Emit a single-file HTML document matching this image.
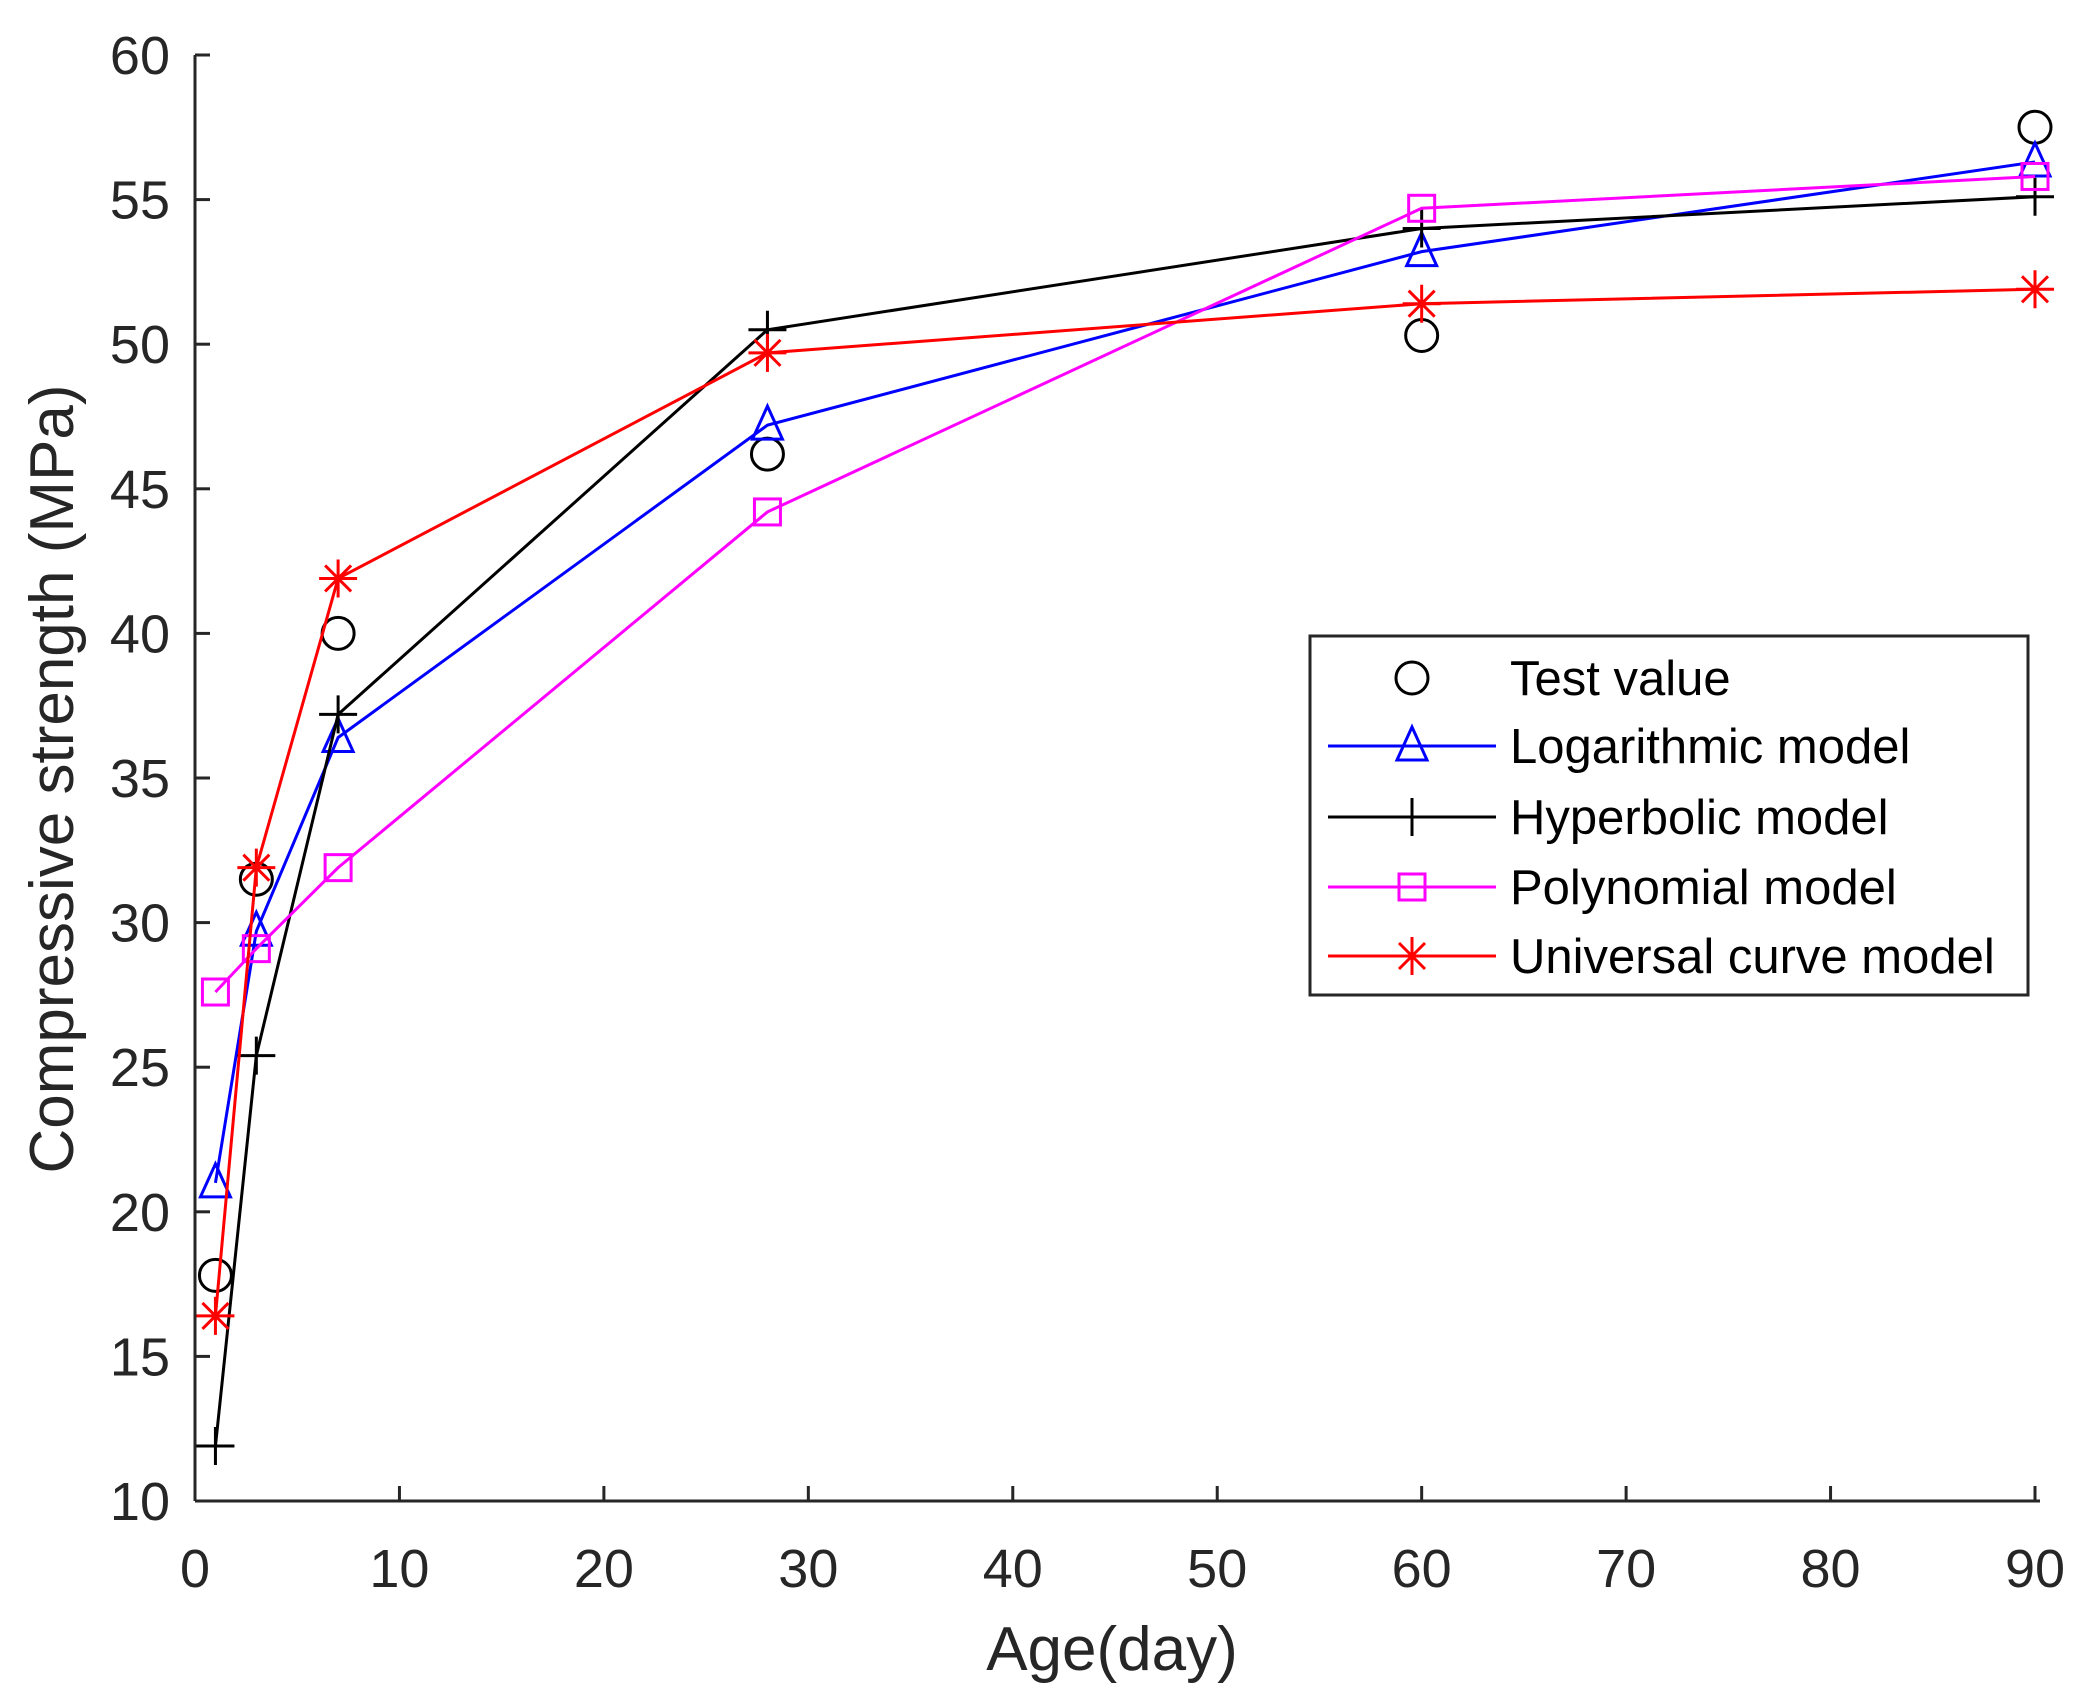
<!DOCTYPE html>
<html><head><meta charset="utf-8"><style>body{margin:0;background:#fff}svg{display:block}</style></head><body>
<svg width="2091" height="1706" xmlns="http://www.w3.org/2000/svg" font-family="Liberation Sans, sans-serif">
<rect width="2091" height="1706" fill="#fff"/>
<g stroke="#262626" stroke-width="3" fill="none">
<line x1="195" y1="55" x2="195" y2="1501"/>
<line x1="195" y1="1501" x2="2040" y2="1501"/>
</g>
<g id="ticks" stroke="#262626" stroke-width="3"></g>
<g id="lab" fill="#262626" font-size="54"></g>
<text x="1112" y="1670" font-size="62" fill="#262626" text-anchor="middle">Age(day)</text>
<text transform="translate(73,779) rotate(-90)" font-size="62" fill="#262626" text-anchor="middle">Compressive strength (MPa)</text>
<g id="series"></g>
<rect x="1310" y="636" width="718" height="359" fill="#fff" stroke="#262626" stroke-width="3"/>
<g id="leg"></g>
<script>
const X=d=>195+d*1840/90, Y=v=>1501-(v-10)*28.92;
const ns="http://www.w3.org/2000/svg";
function el(p,t,a,txt){const e=document.createElementNS(ns,t);for(const k in a)e.setAttribute(k,a[k]);if(txt!==undefined)e.textContent=txt;p.appendChild(e);return e;}
const tk=document.getElementById('ticks'),lb=document.getElementById('lab');
for(let v=10;v<=60;v+=5){el(tk,'line',{x1:195,x2:210,y1:Y(v),y2:Y(v)});el(lb,'text',{x:170,y:Y(v)+19,'text-anchor':'end'},v);}
for(let d=0;d<=90;d+=10){if(d>0)el(tk,'line',{x1:X(d),x2:X(d),y1:1501,y2:1486});el(lb,'text',{x:X(d),y:1587,'text-anchor':'middle'},d);}
const days=[1,3,7,28,60,90];
const S=[
{c:'#000',m:'o',line:false,v:[17.8,31.5,40,46.2,50.3,57.5]},
{c:'#0000ff',m:'t',line:true,v:[21,29.7,36.4,47.2,53.2,56.3]},
{c:'#000',m:'+',line:true,v:[11.9,25.4,37.2,50.5,54,55.1]},
{c:'#ff00ff',m:'s',line:true,v:[27.6,29.1,31.9,44.2,54.7,55.8]},
{c:'#ff0000',m:'*',line:true,v:[16.4,31.9,41.9,49.7,51.4,51.9]}];
function mark(g,m,x,y,c){
 const a={stroke:c,'stroke-width':3,fill:'none'};
 if(m=='o')el(g,'circle',Object.assign({cx:x,cy:y,r:16},a));
 if(m=='t')el(g,'polygon',Object.assign({points:`${x},${y-19} ${x-15},${y+14} ${x+15},${y+14}`},a));
 if(m=='s')el(g,'rect',Object.assign({x:x-13,y:y-13,width:26,height:26},a));
 if(m=='+')el(g,'path',Object.assign({d:`M${x-19},${y}H${x+19}M${x},${y-19}V${y+19}`},a));
 if(m=='*')el(g,'path',Object.assign({d:`M${x-19},${y}H${x+19}M${x},${y-19}V${y+19}M${x-13},${y-13}L${x+13},${y+13}M${x-13},${y+13}L${x+13},${y-13}`},a));
}
const sg=document.getElementById('series');
S.forEach(s=>{const pts=days.map((d,i)=>[X(d),Y(s.v[i])]);
 if(s.line)el(sg,'polyline',{points:pts.map(p=>p.join(',')).join(' '),fill:'none',stroke:s.c,'stroke-width':3});
 pts.forEach(p=>mark(sg,s.m,p[0],p[1],s.c));});
const lg=document.getElementById('leg');
const names=['Test value','Logarithmic model','Hyperbolic model','Polynomial model','Universal curve model'];
const rows=[678,746,817,887,956];
S.forEach((s,i)=>{const y=rows[i];
 if(s.line)el(lg,'line',{x1:1328,x2:1496,y1:y,y2:y,stroke:s.c,'stroke-width':3});
 mark(lg,s.m,1412,y,s.c);
 el(lg,'text',{x:1510,y:y+17,'font-size':49,fill:'#000'},names[i]);});
</script>
</svg>
</body></html>
